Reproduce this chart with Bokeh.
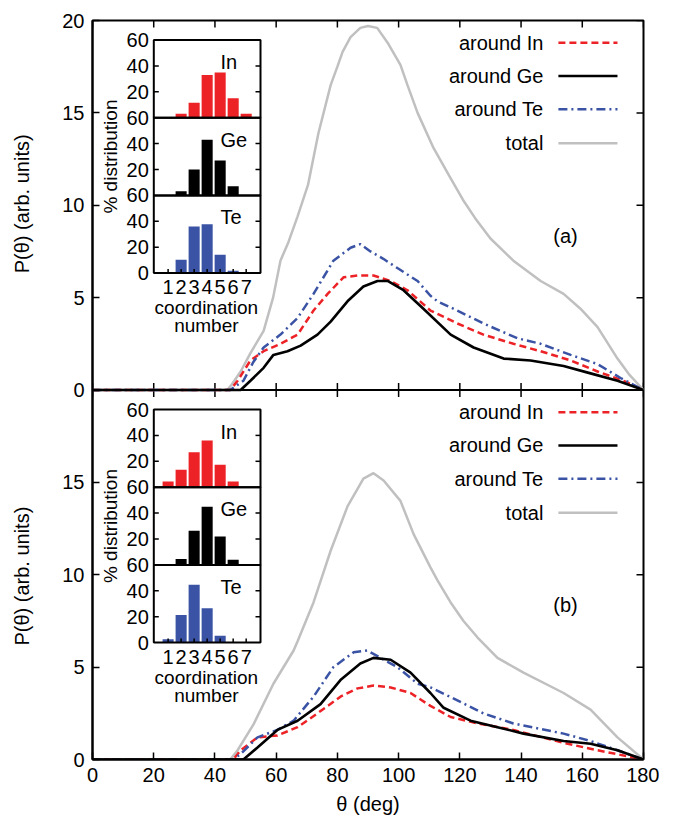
import math
from bokeh.plotting import figure
from bokeh.models import Range1d, FixedTicker, Span
from bokeh.embed import file_html
from bokeh.resources import INLINE
from bokeh.core.properties import value

# ---------------- data: panel (a) ----------------
x_tot_a = [0, 44, 45.5, 48.4, 51.6, 55.9, 59, 61.4, 64, 67, 70.4, 73.8, 77.8, 80, 81.7, 84.3, 87.5, 90, 93,
           96.4, 100.6, 102.9, 106.2, 111.4, 116.5, 121, 125, 130, 137.5, 146.4, 153.9, 159.4, 165, 171.5, 175.5, 180]
y_tot_a = [0, 0, 0.3, 1.0, 2.0, 3.2, 5.0, 7.0, 8.0, 9.4, 11.1, 13.9, 16.5, 17.5, 18.3, 19.1, 19.6, 19.7, 19.6,
           18.8, 17.6, 16.5, 15.0, 13.1, 11.6, 10.3, 9.3, 8.2, 7.0, 5.9, 5.2, 4.4, 3.4, 1.7, 0.8, 0]

x_te_a = [0, 45, 49.3, 52.5, 55.9, 61.4, 67, 72.2, 78.7, 84.3, 87.5, 90.8, 95, 99.6, 106.2, 110.4, 112.7,
          119.2, 127.7, 138.8, 146.4, 156.2, 165, 172.5, 180]
y_te_a = [0, 0, 0.5, 1.5, 2.3, 3.0, 3.9, 5.2, 7.0, 7.7, 7.9, 7.5, 7.1, 6.6, 5.9, 5.1, 4.8,
          4.3, 3.6, 2.8, 2.5, 1.9, 1.4, 0.65, 0]

x_in_a = [0, 45, 47.4, 51.6, 55.9, 61.4, 67, 72.2, 76.8, 82, 86.6, 91.8, 97.4, 102.9, 110.4, 119.2, 127.7,
          137.5, 146.4, 156.2, 165, 173.5, 180]
y_in_a = [0, 0, 0.5, 1.6, 2.1, 2.5, 3.0, 4.3, 5.2, 6.1, 6.2, 6.2, 5.9, 5.4, 4.3, 3.6, 3.0,
          2.5, 2.1, 1.6, 1.0, 0.5, 0]

x_ge_a = [0, 48.4, 51.6, 55.9, 59.1, 63.7, 68, 73.5, 77.8, 83.3, 88.5, 93.1, 96.4, 101.6, 108.1, 117, 124.5,
          134.3, 143.1, 153.9, 162.7, 171.5, 180]
y_ge_a = [0, 0, 0.5, 1.2, 1.9, 2.1, 2.4, 3.0, 3.7, 4.8, 5.6, 5.9, 5.9, 5.4, 4.4, 3.0, 2.3,
          1.7, 1.6, 1.3, 0.9, 0.5, 0]

# ---------------- data: panel (b) ----------------
x_tot_b = [0, 45, 47.4, 52.6, 59.1, 65.7, 67, 72.2, 77.8, 83.3, 88.5, 91.8, 95.1, 100.6, 104.9, 110.4, 112.7,
           117, 121.2, 125.8, 132.3, 140.8, 153.9, 162.7, 171.5, 180]
y_tot_b = [0, 0, 0.5, 1.9, 4.1, 5.9, 6.4, 8.5, 11.3, 13.7, 15.2, 15.5, 15.1, 14.0, 12.2, 10.4, 9.7,
           8.5, 7.5, 6.6, 5.5, 4.7, 3.6, 2.7, 1.2, 0]

x_te_b = [0, 46, 48.4, 53.9, 60.4, 65.7, 72.2, 78.7, 85.3, 89.8, 94.1, 99.6, 106.2, 110.4, 119.2, 127.7,
          137.5, 153.9, 162.7, 171.5, 180]
y_te_b = [0, 0, 0.3, 1.2, 1.6, 2.1, 3.4, 5.0, 5.8, 5.9, 5.5, 5.0, 4.1, 3.9, 3.2, 2.5,
          1.95, 1.4, 1.0, 0.5, 0]

x_ge_b = [0, 49.3, 53.9, 60.4, 67, 74.5, 81, 87.5, 91.8, 97.4, 103.9, 110.4, 114.7, 123.5, 132.3, 140.8,
          153.9, 162.7, 171.5, 180]
y_ge_b = [0, 0, 0.65, 1.6, 2.1, 3.0, 4.3, 5.2, 5.5, 5.4, 4.7, 3.6, 2.8, 2.1, 1.75, 1.4,
          1.0, 0.85, 0.5, 0]

x_in_b = [0, 46, 48.4, 53.9, 60.4, 67, 73.5, 81, 86.6, 91.8, 97.4, 103.9, 110.4, 117, 125.8, 137.5,
          153.9, 165, 180]
y_in_b = [0, 0, 0.5, 1.2, 1.3, 1.75, 2.5, 3.4, 3.85, 4.0, 3.9, 3.6, 2.9, 2.3, 1.95, 1.6,
          0.9, 0.5, 0]

# ---------------- inset histograms ----------------
cn = [1, 2, 3, 4, 5, 6, 7]
cn_labels = ["1", "2", "3", "4", "5", "6", "7"]
hist_in_a = [0, 3.0, 11.6, 33.0, 35.0, 15.0, 3.0]
hist_ge_a = [0, 3.3, 20.0, 43.0, 27.0, 7.0, 0]
hist_te_a = [0.5, 10.3, 36.0, 37.7, 14.2, 1.8, 0]
hist_in_b = [4.4, 13.4, 26.9, 36.0, 17.3, 4.4, 0]
hist_ge_b = [0, 4.6, 26.3, 45.0, 22.0, 3.9, 0]
hist_te_b = [2.6, 21.4, 44.6, 26.6, 5.2, 0, 0]

x_ticks = [0, 20, 40, 60, 80, 100, 120, 140, 160, 180]
y_ticks = [0, 5, 10, 15, 20]
legend_names = ["around In", "around Ge", "around Te", "total"]
panel_tags = ["(a)", "(b)"]
y_title = "P(θ) (arb. units)"

# ---------------- styles ----------------
FONT = "Liberation Sans"
FS = "20px"
FW, FH = 551, 739          # frame holds both stacked panels
PANEL_H = FH / 2.0
RED = "#ec2227"
BLUE = "#3a53a4"
GRAY = "#c0c0c0"
styles = [
    dict(line_color=RED, line_width=2.5, line_dash="7 4"),
    dict(line_color="black", line_width=2.6, line_dash="solid"),
    dict(line_color=BLUE, line_width=2.5, line_dash="9 4 2 4"),
    dict(line_color=GRAY, line_width=2.5, line_dash="solid"),
]
TICK_PX = 7

p = figure(x_range=Range1d(0, 180), y_range=Range1d(0, 40), frame_width=FW, frame_height=FH,
           output_backend="svg", toolbar_location=None,
           min_border_left=92, min_border_right=16, min_border_top=20, min_border_bottom=4)
p.grid.visible = False
p.outline_line_color = "black"
p.outline_line_width = 2
p.background_fill_color = "white"
p.border_fill_color = "white"
# upper panel uses its own 0..20 range mapped to the upper half of the frame
extra_y = {"top": Range1d(-20, 20)}


def style_axis(ax, ticks, overrides=None):
    ax.ticker = FixedTicker(ticks=ticks)
    ax.major_tick_in = TICK_PX
    ax.major_tick_out = 0
    ax.minor_tick_in = 0
    ax.minor_tick_out = 0
    ax.axis_line_width = 2
    ax.axis_line_color = "black"
    ax.major_tick_line_width = 1.5
    ax.major_label_text_font = FONT
    ax.major_label_text_font_size = FS
    ax.major_label_text_color = "black"
    ax.major_label_standoff = 8
    if overrides:
        ax.major_label_overrides = overrides
    ax.axis_label_text_font = FONT
    ax.axis_label_text_font_size = FS
    ax.axis_label_text_font_style = "normal"
    ax.axis_label_text_color = "black"


style_axis(p.xaxis[0], x_ticks)
p.xaxis[0].axis_label = "θ (deg)"
p.xaxis[0].axis_label_standoff = 8
# left axis: lower panel 0..20 in the main range, upper panel 0..20 shown above it
left_ticks = y_ticks + [v + 20 for v in y_ticks[1:]]
style_axis(p.yaxis[0], left_ticks, overrides={v + 20: str(v) for v in y_ticks})
# one axis title per panel: the two copies are spaced so each centres on its own panel
p.yaxis[0].axis_label = y_title + "\u00a0" * 42 + y_title
p.yaxis[0].axis_label_standoff = 26

# boundary between the panels
p.add_layout(Span(location=20, dimension="width", line_color="black", line_width=2))

tx = TICK_PX / (FW / 180.0)
ty = TICK_PX / (PANEL_H / 20.0)
tick_kw = dict(line_color="black", line_width=1.5)
n_x = len(x_ticks)
n_y = len(y_ticks)
# upper panel: ticks on top edge and on the boundary, right edge
p.segment(x0=x_ticks, x1=x_ticks, y0=[20] * n_x, y1=[20 - ty] * n_x, y_range_name="top", **tick_kw)
p.segment(x0=x_ticks, x1=x_ticks, y0=[0] * n_x, y1=[ty] * n_x, y_range_name="top", **tick_kw)
p.segment(x0=[180] * n_y, x1=[180 - tx] * n_y, y0=y_ticks, y1=y_ticks, y_range_name="top", **tick_kw)
# lower panel: ticks under the boundary, right edge
p.segment(x0=x_ticks, x1=x_ticks, y0=[20] * n_x, y1=[20 - ty] * n_x, **tick_kw)
p.segment(x0=[180] * n_y, x1=[180 - tx] * n_y, y0=y_ticks, y1=y_ticks, **tick_kw)


def txt(x, y, text, align="center", baseline="middle", size=FS, angle=0, xr="default", yr="default"):
    p.text(x=x, y=y, text=text, text_align=align, text_baseline=baseline, angle=angle,
           text_font=value(FONT), text_font_size=size, text_color="black",
           x_range_name=xr, y_range_name=yr)


# ---------------- insets ----------------
CN_LO, CN_HI = -0.1, 8.1
XL_PX, XR_PX = 61.3, 168.0
S_X = (XR_PX - XL_PX) / (CN_HI - CN_LO)
SUB_H = 77.7
S_Y = SUB_H / 60.0
extra_x = {"cn": Range1d(CN_LO - XL_PX / S_X, CN_HI + (FW - XR_PX) / S_X)}


def add_inset(hists, top_off, sfx):
    names = ["in" + sfx, "ge" + sfx, "te" + sfx]
    labs = ["In", "Ge", "Te"]
    colors = [RED, "black", BLUE]
    for k in range(3):
        t = top_off + k * SUB_H
        b = t + SUB_H
        extra_y[names[k]] = Range1d(-(FH - b) / S_Y, 60 + t / S_Y)
    tlx = 5.0 / S_X
    tly = 4.0 / S_Y
    for k in range(3):
        nm = names[k]
        p.vbar(x=cn, top=hists[k], bottom=0, width=0.85, fill_color=colors[k], line_color=None,
               x_range_name="cn", y_range_name=nm)
        p.quad(left=[CN_LO], right=[CN_HI], bottom=[0], top=[60], fill_color=None,
               line_color="black", line_width=2, x_range_name="cn", y_range_name=nm)
        yt = [20, 40]
        p.segment(x0=[CN_LO] * 2, x1=[CN_LO + tlx] * 2, y0=yt, y1=yt, x_range_name="cn",
                  y_range_name=nm, **tick_kw)
        p.segment(x0=[CN_HI] * 2, x1=[CN_HI - tlx] * 2, y0=yt, y1=yt, x_range_name="cn",
                  y_range_name=nm, **tick_kw)
        labs_y = [60, 40, 20] + ([0] if k == 2 else [])
        txt([CN_LO - 0.38] * len(labs_y), labs_y, [str(v) for v in labs_y], align="right",
            xr="cn", yr=nm)
        txt([5.03], [43], [labs[k]], align="left", xr="cn", yr=nm)
    p.segment(x0=cn, x1=cn, y0=[0] * 7, y1=[tly] * 7, x_range_name="cn", y_range_name=names[2], **tick_kw)
    txt(cn, [-10.8] * 7, cn_labels, xr="cn", yr=names[2])
    txt([3.94], [-26.6], ["coordination"], size="19px", xr="cn", yr=names[2])
    txt([3.94], [-40.7], ["number"], size="19px", xr="cn", yr=names[2])
    txt([-3.43], [30], ["% distribution"], size="19px", angle=math.pi / 2, xr="cn", yr=names[1])


add_inset([hist_in_a, hist_ge_a, hist_te_a], 19.5, "_a")
add_inset([hist_in_b, hist_ge_b, hist_te_b], PANEL_H + 19.5, "_b")
p.extra_x_ranges = extra_x
p.extra_y_ranges = extra_y

# ---------------- curves, legends, tags ----------------
panels = [
    ("top", [(x_in_a, y_in_a), (x_ge_a, y_ge_a), (x_te_a, y_te_a), (x_tot_a, y_tot_a)]),
    ("default", [(x_in_b, y_in_b), (x_ge_b, y_ge_b), (x_te_b, y_te_b), (x_tot_b, y_tot_b)]),
]
rows = [18.8, 17.0, 15.2, 13.35]
for j, (yr, series) in enumerate(panels):
    for i in [3, 0, 2, 1]:
        xs, ys = series[i]
        p.line(xs, ys, y_range_name=yr, **styles[i])
    txt([147.3] * 4, rows, legend_names, align="right", yr=yr)
    for i in range(4):
        p.segment(x0=[152.2], x1=[171.5], y0=[rows[i]], y1=[rows[i]], y_range_name=yr, **styles[i])
    txt([154.5], [8.35], [panel_tags[j]], yr=yr)

open("out.html", "w").write(file_html(p, INLINE))
